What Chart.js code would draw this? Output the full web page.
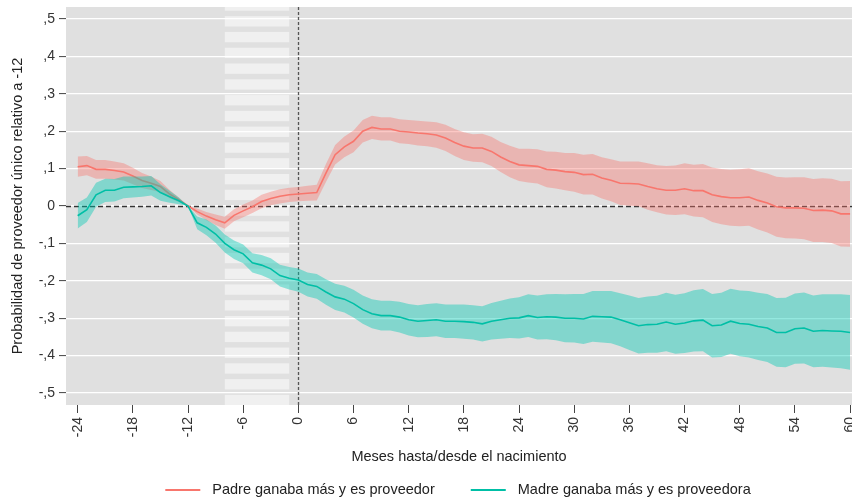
<!DOCTYPE html>
<html><head><meta charset="utf-8">
<script src="https://cdn.jsdelivr.net/npm/chart.js@4/dist/chart.umd.min.js"></script>
<style>html,body{margin:0;padding:0;background:#fff;}#wrap{width:852px;height:500px;}</style>
</head><body><div id="wrap"><canvas id="c" width="852" height="500"></canvas></div>
<script>
const months = [-24,-23,-22,-21,-20,-19,-18,-17,-16,-15,-14,-13,-12,-11,-10,-9,-8,-7,-6,-5,-4,-3,-2,-1,
  0,1,2,3,4,5,6,7,8,9,10,11,12,13,14,15,16,17,18,19,20,21,22,23,24,25,26,27,28,29,30,31,32,33,34,35,36,
  37,38,39,40,41,42,43,44,45,46,47,48,49,50,51,52,53,54,55,56,57,58,59,60];

const padreEst = [0.105,0.108,0.098,0.098,0.095,0.091,0.080,0.068,0.061,0.052,0.032,0.017,0,
  -0.015,-0.027,-0.037,-0.045,-0.025,-0.013,-0.002,0.012,0.020,0.026,0.030,
  0.032,0.034,0.036,0.088,0.137,0.158,0.173,0.200,0.210,0.206,0.206,0.200,0.198,0.195,0.193,0.190,
  0.182,0.170,0.160,0.155,0.155,0.146,0.131,0.119,0.110,0.108,0.106,0.098,0.096,0.092,0.090,0.084,
  0.085,0.075,0.069,0.061,0.060,0.059,0.052,0.046,0.042,0.042,0.046,0.041,0.041,0.030,0.025,0.022,
  0.022,0.024,0.015,0.008,-0.002,-0.005,-0.005,-0.006,-0.012,-0.011,-0.013,-0.021,-0.021];
const padreHalfCI = [0.027,0.026,0.025,0.025,0.024,0.023,0.022,0.020,0.018,0.015,0.011,0.006,0,
  0.008,0.011,0.014,0.016,0.016,0.017,0.017,0.018,0.018,0.019,0.019,
  0.019,0.020,0.021,0.024,0.026,0.028,0.029,0.030,0.031,0.031,0.031,0.032,0.032,0.033,0.033,0.034,
  0.035,0.036,0.037,0.037,0.038,0.039,0.040,0.042,0.043,0.045,0.046,0.048,0.049,0.050,0.052,0.053,
  0.054,0.055,0.056,0.058,0.059,0.060,0.062,0.063,0.065,0.066,0.068,0.069,0.071,0.073,0.074,0.075,
  0.076,0.077,0.078,0.079,0.080,0.081,0.082,0.083,0.084,0.085,0.086,0.087,0.088];

const madreEst = [-0.026,-0.010,0.030,0.042,0.042,0.050,0.051,0.052,0.054,0.036,0.025,0.014,0,
  -0.045,-0.057,-0.075,-0.100,-0.117,-0.128,-0.152,-0.158,-0.168,-0.186,-0.193,
  -0.198,-0.210,-0.215,-0.230,-0.243,-0.249,-0.261,-0.277,-0.288,-0.293,-0.293,-0.297,-0.304,-0.308,
  -0.306,-0.304,-0.308,-0.308,-0.309,-0.311,-0.315,-0.308,-0.304,-0.300,-0.299,-0.293,-0.298,-0.296,
  -0.297,-0.300,-0.300,-0.302,-0.295,-0.296,-0.297,-0.304,-0.312,-0.320,-0.317,-0.316,-0.310,-0.316,
  -0.313,-0.307,-0.305,-0.320,-0.318,-0.308,-0.314,-0.316,-0.322,-0.326,-0.338,-0.338,-0.328,-0.326,
  -0.335,-0.333,-0.334,-0.335,-0.338];
const madreHalfCI = [0.034,0.033,0.032,0.031,0.030,0.029,0.028,0.027,0.026,0.022,0.016,0.009,0,
  0.017,0.021,0.023,0.024,0.025,0.025,0.026,0.027,0.028,0.029,0.030,
  0.031,0.032,0.033,0.034,0.035,0.036,0.037,0.038,0.039,0.040,0.040,0.041,0.042,0.043,0.044,0.044,
  0.045,0.045,0.046,0.046,0.047,0.049,0.051,0.053,0.055,0.057,0.059,0.060,0.062,0.064,0.065,0.067,
  0.068,0.069,0.070,0.071,0.073,0.074,0.075,0.076,0.078,0.079,0.080,0.082,0.083,0.085,0.086,0.087,
  0.088,0.089,0.090,0.091,0.092,0.093,0.094,0.095,0.096,0.097,0.098,0.099,0.100];

const seriesLabels = ['Padre ganaba más y es proveedor', 'Madre ganaba más y es proveedora'];
const xTicks = [-24,-18,-12,-6,0,6,12,18,24,30,36,42,48,54,60];
const xTickLabels = ['-24','-18','-12','-6','0','6','12','18','24','30','36','42','48','54','60'];
const yTicks = [-0.5,-0.4,-0.3,-0.2,-0.1,0,0.1,0.2,0.3,0.4,0.5];
const yTickLabels = ['-,5','-,4','-,3','-,2','-,1','0',',1',',2',',3',',4',',5'];
const shadeRange = [-8, -1];
const xTitle = 'Meses hasta/desde el nacimiento';
const yTitle = 'Probabilidad de proveedor único relativo a -12';

const RED = '#f8766d', RED_BAND = 'rgba(248,118,109,0.4)';
const TEAL = '#00bfa6', TEAL_BAND = 'rgba(0,200,178,0.42)';
const FONT = '"Liberation Sans", Arial, sans-serif';
const TXT = '#222';

const pts = (arr) => arr.map((v, i) => ({x: months[i], y: v}));
const bound = (c, h, s) => c.map((v, i) => ({x: months[i], y: v + s * h[i]}));

const decor = {
  id: 'decor',
  beforeDraw(chart) {
    const {ctx, chartArea: a, scales: {x}} = chart;
    ctx.save();
    ctx.fillStyle = '#e0e0e0';
    ctx.fillRect(a.left, a.top, a.right - a.left, a.bottom - a.top);
    ctx.beginPath(); ctx.rect(a.left, a.top, a.right - a.left, a.bottom - a.top); ctx.clip();
    const x0 = x.getPixelForValue(shadeRange[0]), x1 = x.getPixelForValue(shadeRange[1]);
    ctx.fillStyle = '#f0f0f0';
    for (let y = a.top - 6.6; y < a.bottom; y += 15.78) ctx.fillRect(x0, y, x1 - x0, 10.3);
    ctx.restore();
  },
  beforeDatasetsDraw(chart) {
    const {ctx, chartArea: a, scales: {x, y}} = chart;
    ctx.save();
    ctx.beginPath(); ctx.rect(a.left, a.top, a.right - a.left, a.bottom - a.top); ctx.clip();
    const y0 = Math.round(y.getPixelForValue(0)) + 0.5;
    ctx.strokeStyle = '#333'; ctx.lineWidth = 1.3; ctx.setLineDash([5, 3]);
    ctx.beginPath(); ctx.moveTo(a.left, y0); ctx.lineTo(a.right, y0); ctx.stroke();
    const x0 = Math.round(x.getPixelForValue(0)) + 0.5;
    ctx.strokeStyle = '#555'; ctx.lineWidth = 1.3; ctx.setLineDash([3, 2]);
    ctx.beginPath(); ctx.moveTo(x0, a.top); ctx.lineTo(x0, a.bottom); ctx.stroke();
    ctx.restore();
  },
  afterDraw(chart) {
    const {ctx} = chart;
    ctx.save();
    ctx.font = '14.5px ' + FONT;
    ctx.textBaseline = 'middle';
    const cols = [RED, TEAL];
    const lineW = 35, gapT = 12, gapI = 36;
    const widths = seriesLabels.map(t => lineW + gapT + ctx.measureText(t).width);
    const total = widths[0] + widths[1] + gapI;
    let x = 458 - total / 2;
    const yy = 490;
    seriesLabels.forEach((t, i) => {
      ctx.strokeStyle = cols[i]; ctx.lineWidth = 2;
      ctx.beginPath(); ctx.moveTo(x, yy); ctx.lineTo(x + lineW, yy); ctx.stroke();
      ctx.fillStyle = TXT;
      ctx.fillText(t, x + lineW + gapT, yy);
      x += widths[i] + gapI;
    });
    ctx.restore();
  }
};

new Chart(document.getElementById('c'), {
  type: 'line',
  data: {
    datasets: [
      {label: 'padre_lo', data: bound(padreEst, padreHalfCI, -1), borderColor: 'transparent', borderWidth: 0, fill: false, order: 5},
      {label: 'padre_hi', data: bound(padreEst, padreHalfCI, 1), borderColor: 'transparent', borderWidth: 0, backgroundColor: RED_BAND, fill: '-1', order: 4},
      {label: seriesLabels[0], data: pts(padreEst), borderColor: RED, backgroundColor: RED, borderWidth: 1.6, fill: false, order: 3},
      {label: 'madre_lo', data: bound(madreEst, madreHalfCI, -1), borderColor: 'transparent', borderWidth: 0, fill: false, order: 2},
      {label: 'madre_hi', data: bound(madreEst, madreHalfCI, 1), borderColor: 'transparent', borderWidth: 0, backgroundColor: TEAL_BAND, fill: '-1', order: 1},
      {label: seriesLabels[1], data: pts(madreEst), borderColor: TEAL, backgroundColor: TEAL, borderWidth: 1.6, fill: false, order: 0}
    ]
  },
  options: {
    responsive: false, animation: false, devicePixelRatio: 1,
    layout: {padding: {top: 7, left: 0, right: 0, bottom: 34}},
    elements: {point: {radius: 0, hoverRadius: 0}, line: {tension: 0}},
    plugins: {legend: {display: false}, tooltip: {enabled: false}},
    scales: {
      x: {
        type: 'linear', min: -25.27, max: 60.21,
        afterBuildTicks: s => { s.ticks = xTicks.map(v => ({value: v})); },
        afterFit: s => { s.height = 61; s.paddingLeft = 0; s.paddingRight = 0; },
        ticks: {autoSkip: false, minRotation: 90, maxRotation: 90, padding: 4, color: '#333',
          font: {family: FONT, size: 14}, callback: (v, i) => xTickLabels[i]},
        grid: {drawOnChartArea: false, drawTicks: true, tickLength: 8, tickColor: '#444', tickWidth: 1},
        border: {display: false},
        title: {display: true, text: xTitle, color: TXT, font: {family: FONT, size: 14.5}, padding: {top: 0, bottom: 0}}
      },
      y: {
        min: -0.532, max: 0.532,
        afterBuildTicks: s => { s.ticks = yTicks.map(v => ({value: v})); },
        afterFit: s => { s.width = 66; s.paddingTop = 0; s.paddingBottom = 0; },
        ticks: {autoSkip: false, padding: 4, color: '#333', font: {family: FONT, size: 14},
          callback: (v, i) => yTickLabels[i]},
        grid: {color: '#ffffff', lineWidth: 1.2, drawTicks: true, tickLength: 7, tickColor: '#444', tickWidth: 1},
        border: {display: false},
        title: {display: true, text: yTitle, color: TXT, font: {family: FONT, size: 14.5}, padding: {top: 9, bottom: 0}}
      }
    }
  },
  plugins: [decor]
});
</script></body></html>
